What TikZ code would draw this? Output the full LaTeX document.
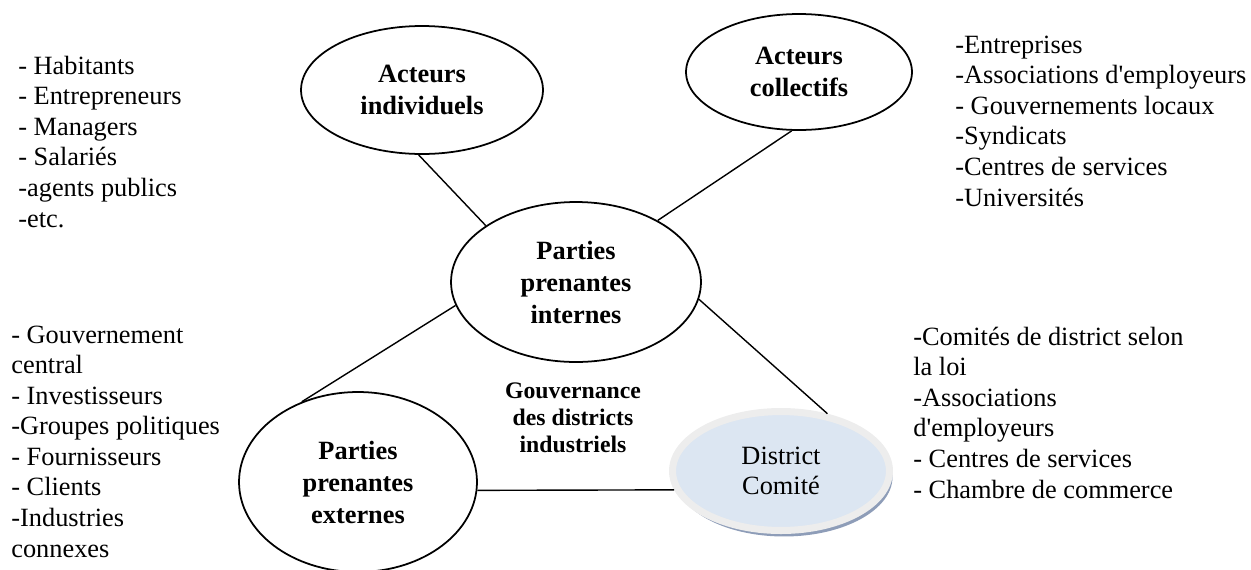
\documentclass[tikz,border=0pt]{standalone}
\usepackage{fontspec}
\setmainfont{Liberation Serif}
\definecolor{gdRing}{HTML}{EDEDED}
\definecolor{gdFill}{HTML}{DCE6F2}
\definecolor{gdShadow}{HTML}{8E9DB8}
\usetikzlibrary{shapes.geometric,shadows}

\begin{document}
\begin{tikzpicture}[x=0.02cm, y=-0.02cm,
  bubble/.style={ellipse, draw, line width=1pt, inner sep=0pt, align=center,
    font=\fontsize{15}{18.2}\selectfont\bfseries},
  disc/.style={ellipse, draw=gdRing, line width=4pt, fill=gdFill, inner sep=0pt,
    align=center, font=\fontsize{15}{17.4}\selectfont,
    drop shadow={shadow xshift=0.06cm, shadow yshift=-0.12cm, fill=gdShadow, opacity=1}},
  liste/.style={anchor=base west, inner sep=0pt, align=left,
    font=\fontsize{15}{17.4}\selectfont},
  link/.style={line width=0.8pt}
]
  \useasboundingbox (0,0) rectangle (1251,569);

  \node[bubble, minimum width=4.84cm, minimum height=2.56cm] (ind) at (422,90) {Acteurs\\individuels};
  \node[bubble, minimum width=4.52cm, minimum height=2.32cm] (col) at (799,72) {Acteurs\\collectifs};
  \node[bubble, minimum width=5.0cm, minimum height=3.2cm] (int) at (576,282) {Parties\\prenantes\\internes};
  \node[bubble, minimum width=4.76cm, minimum height=3.6cm] (ext) at (358,482) {Parties\\prenantes\\externes};
  \node[disc, minimum width=4.34cm, minimum height=2.38cm] (dis) at (781,471) {District\\Comité};

  % Center label
  \node[align=center, inner sep=0pt, font=\fontsize{13.5}{15.5}\selectfont\bfseries] (gov) at (573,418)
    {Gouvernance\\des districts\\industriels};

  \draw[link] (ind.267) -- (int.148);
  \draw[link] (col.263) -- (int.37);
  \draw[link] (int.191) -- (ext.125);
  \draw[link] (int.352) -- (dis.51);
  \draw[link] (ext.-4) -- (dis.190);

  % lists, placed by the baseline of their last line
  \node[liste] (indlist) at (18,227) {- Habitants\\- Entrepreneurs\\- Managers\\- Salariés\\-agents publics\\-etc.};
  \node[liste] (collist) at (955,206) {-Entreprises\\-Associations d\textquotesingle employeurs\\- Gouvernements locaux\\-Syndicats\\-Centres de services\\-Universités};
  \node[liste] (extlist) at (11,557) {- Gouvernement\\central\\- Investisseurs\\-Groupes politiques\\- Fournisseurs\\- Clients\\-Industries\\connexes};
  \node[liste] (dislist) at (913,498) {-Comités de district selon\\la loi\\-Associations\\d\textquotesingle employeurs\\- Centres de services\\- Chambre de commerce};
\end{tikzpicture}
\end{document}
